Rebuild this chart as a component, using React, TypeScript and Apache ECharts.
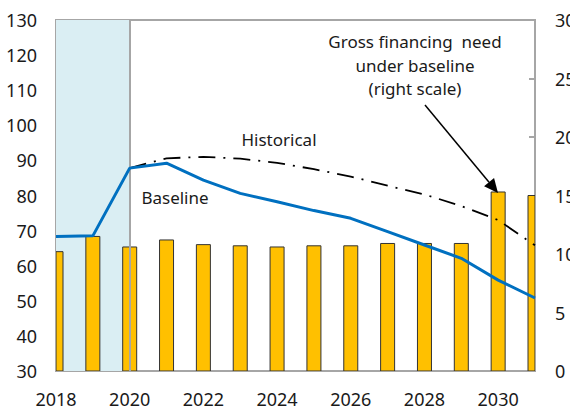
import React, { useEffect, useRef } from "react";
import * as echarts from "echarts";

const years = [2018, 2019, 2020, 2021, 2022, 2023, 2024, 2025, 2026, 2027, 2028, 2029, 2030, 2031];
const grossFinancing = [10.2, 11.5, 10.6, 11.2, 10.8, 10.7, 10.6, 10.7, 10.7, 10.9, 10.9, 10.9, 15.3, 15.0];
const baseline = [68.3, 68.5, 87.8, 89.2, 84.4, 80.6, 78.2, 75.7, 73.5, 69.7, 65.9, 62.1, 55.9, 50.8];
const histYears = [2020, 2021, 2022, 2023, 2024, 2025, 2026, 2027, 2028, 2029, 2030, 2031];
const historical = [87.8, 90.6, 91.0, 90.5, 89.3, 87.5, 85.4, 82.8, 80.3, 77.0, 73.0, 65.8];
const shadeRange = [2018, 2020];

const FONT = "Noto Sans";
const GRAY = "#A6A6A6";
const TXT = "#1a1a1a";

export default function App() {
  const ref = useRef<HTMLDivElement>(null);
  useEffect(() => {
    document.body.style.margin = "0";
    const chart = echarts.init(ref.current!, null, { renderer: "svg" });
    const tip = [498, 193];
    const from = [425, 105];
    const dx = tip[0] - from[0], dy = tip[1] - from[1];
    const len = Math.sqrt(dx * dx + dy * dy);
    const ux = dx / len, uy = dy / len;
    const hl = 14, hw = 6.5;
    const bx = tip[0] - ux * hl, by = tip[1] - uy * hl;
    const barW = 14;
    chart.setOption({
      animation: false,
      textStyle: { fontFamily: FONT },
      grid: {
        left: 56, right: 35, top: 20, bottom: 38, show: true, borderColor: GRAY, borderWidth: 2,
        backgroundColor: "transparent", containLabel: false, outerBoundsMode: "none",
      },
      xAxis: {
        type: "value", min: 2018, max: 2031, interval: 1,
        axisLine: { show: true, lineStyle: { color: GRAY, width: 2 } },
        axisTick: { show: true, inside: true, length: 5, lineStyle: { color: GRAY, width: 2 } },
        axisLabel: {
          color: TXT, fontSize: 18, fontFamily: FONT, margin: 19,
          formatter: (v: number) => (v % 2 === 0 && v < 2031 ? String(v) : ""),
        },
        splitLine: { show: false },
      },
      yAxis: [
        {
          type: "value", min: 30, max: 130, interval: 10,
          axisLine: { show: true, lineStyle: { color: GRAY, width: 2 } },
          axisTick: { show: true, inside: true, length: 6, lineStyle: { color: GRAY, width: 2 } },
          axisLabel: { color: TXT, fontSize: 18, fontFamily: FONT, margin: 19 },
          splitLine: { show: false },
        },
        {
          type: "value", min: 0, max: 30, interval: 5, position: "right",
          axisLine: { show: true, lineStyle: { color: GRAY, width: 2 } },
          axisTick: { show: true, inside: true, length: 6, lineStyle: { color: GRAY, width: 2 } },
          axisLabel: { color: TXT, fontSize: 18, fontFamily: FONT, margin: 20 },
          splitLine: { show: false },
        },
      ],
      series: [
        {
          type: "custom", yAxisIndex: 1, z: 2, clip: true,
          data: years.map((y, i) => [y, grossFinancing[i]]),
          encode: { x: 0, y: 1 },
          renderItem: (params: any, api: any) => {
            const x = api.value(0);
            const v = api.value(1);
            const p0 = api.coord([x, 0]);
            const p1 = api.coord([x, v]);
            const rect = echarts.graphic.clipRectByRect(
              { x: p0[0] - barW / 2, y: p1[1], width: barW, height: p0[1] - p1[1] },
              params.coordSys
            );
            if (!rect) return null;
            return {
              type: "rect",
              shape: rect,
              style: { fill: "#FFC000", stroke: "#333333", lineWidth: 1 },
            };
          },
          markArea: {
            silent: true,
            itemStyle: { color: "#DAEEF3" },
            data: [[{ xAxis: shadeRange[0] }, { xAxis: shadeRange[1] }]],
          },
          markLine: {
            silent: true, symbol: "none", label: { show: false },
            lineStyle: { color: GRAY, width: 2, type: "solid" },
            data: [{ xAxis: shadeRange[1] }],
          },
        },
        {
          type: "line", yAxisIndex: 0, z: 4, symbol: "none",
          data: histYears.map((y, i) => [y, historical[i]]),
          lineStyle: { color: "#000000", width: 1.8, type: [17, 8, 2, 8] },
        },
        {
          type: "line", yAxisIndex: 0, z: 5, symbol: "none",
          data: years.map((y, i) => [y, baseline[i]]),
          lineStyle: { color: "#0070C0", width: 3 },
        },
      ],
      graphic: [
        {
          type: "text", left: 0, top: -19,
          style: { text: "Baseline and historical scenarios", font: `bold 21px ${FONT}`, fill: TXT },
        },
        {
          type: "text", x: 415, y: 30,
          style: {
            text: "Gross financing  need\nunder baseline\n(right scale)",
            font: `17px ${FONT}`, fill: TXT, align: "center", verticalAlign: "top", lineHeight: 23.5,
          },
        },
        {
          type: "text", x: 279, y: 139,
          style: { text: "Historical", font: `17px ${FONT}`, fill: TXT, align: "center", verticalAlign: "middle" },
        },
        {
          type: "text", x: 175, y: 197,
          style: { text: "Baseline", font: `17px ${FONT}`, fill: TXT, align: "center", verticalAlign: "middle" },
        },
        {
          type: "line", z: 10,
          shape: { x1: from[0], y1: from[1], x2: bx, y2: by },
          style: { stroke: "#000", lineWidth: 1.5 },
        },
        {
          type: "polygon", z: 10,
          shape: { points: [[tip[0], tip[1]], [bx - uy * hw, by + ux * hw], [bx + uy * hw, by - ux * hw]] },
          style: { fill: "#000" },
        },
      ],
    });
    return () => chart.dispose();
  }, []);
  return <div ref={ref} style={{ width: 570, height: 409 }} />;
}
